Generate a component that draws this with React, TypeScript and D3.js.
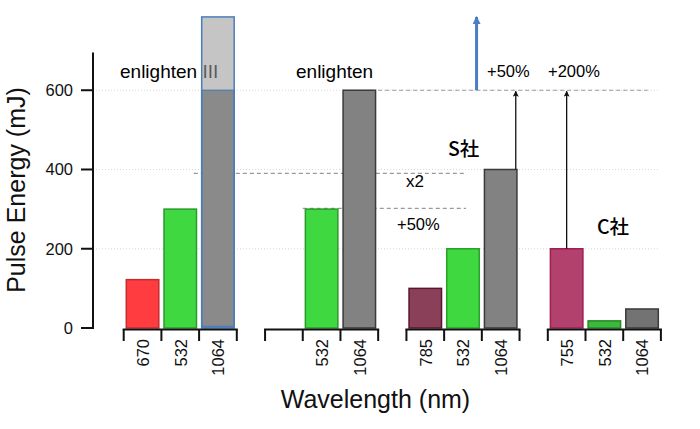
import React from "react";
import * as d3 from "d3";

// ---- data ----
const groupNames = ["enlighten III", "enlighten", "S社", "C社"];
const wavelengths = [
  ["670", "532", "1064"],
  ["", "532", "1064"],
  ["785", "532", "1064"],
  ["755", "532", "1064"],
];
const energies: (number | null)[][] = [
  [122, 300, 600],
  [null, 300, 600],
  [100, 200, 400],
  [200, 18, 48],
];
const upgradeTarget = 785; // enlighten III 1064 extended
const yTicks = [0, 200, 400, 600];
const gridLevels = [200, 400, 600];
const refLevels = [390, 302, 600];
const refLabels = ["x2", "+50%"];
const gainLabels = ["+50%", "+200%"];

// ---- styles ----
const barFills = [
  ["#ff3d41", "#40d840", "#8a8a8a"],
  [null, "#40d840", "#828282"],
  ["#8b405a", "#40d840", "#828282"],
  ["#b3416e", "#3cb83c", "#737373"],
];
const barStrokes = [
  ["#c62a2f", "#2a9a2a", "#4a7ebb"],
  [null, "#2a9a2a", "#3a3a3a"],
  ["#5c1430", "#2aa02a", "#3a3a3a"],
  ["#a01e50", "#248a24", "#3a3a3a"],
];

const FONT = "'Liberation Sans', Arial, Helvetica, 'Noto Sans CJK JP', sans-serif";
const CJK_FONT = "'Noto Sans CJK JP', 'Noto Sans', sans-serif";
const W = 700;
const H = 429;
const GROUP_STEP = 3.75;

const y = d3.scaleLinear().domain([0, 700]).range([328, 50.6]);
const x = d3.scaleLinear().domain([0, 14.25]).range([123.7, 660.9]);
const slotW = x(1) - x(0);
const inset = 2.6;

export default function App() {
  const slot = (g: number, s: number) => g * GROUP_STEP + s;
  const axisY = 329.5;
  return (
    <svg
      width={W}
      height={H}
      viewBox={`0 0 ${W} ${H}`}
      style={{ position: "absolute", left: 0, top: 0, background: "#fff" }}
      fontFamily={FONT}
    >
      <defs>
        <marker id="blackHead" viewBox="0 0 10 10" refX="9" refY="5" markerWidth="7" markerHeight="6" markerUnits="userSpaceOnUse" orient="auto">
          <path d="M0,0 L10,5 L0,10 L2,5 Z" fill="#111" />
        </marker>
        <marker id="blueHead" viewBox="0 0 10 10" refX="9" refY="5" markerWidth="9" markerHeight="8" markerUnits="userSpaceOnUse" orient="auto">
          <path d="M0,0 L10,5 L0,10 Z" fill="#4a7fc4" />
        </marker>
      </defs>

      {/* gridlines */}
      {gridLevels.map((v) => (
        <line key={"g" + v} x1={96} x2={660} y1={y(v)} y2={y(v)} stroke="#d8d8d8" strokeWidth={1} strokeDasharray="1,2" />
      ))}

      {/* dashed reference lines */}
      <line x1={x(1.86)} x2={x(9.05)} y1={y(refLevels[0])} y2={y(refLevels[0])} stroke="#9a9a9a" strokeWidth={1.2} strokeDasharray="4,3" />
      <line x1={x(slot(1, 1))} x2={x(9.08)} y1={y(refLevels[1])} y2={y(refLevels[1])} stroke="#9a9a9a" strokeWidth={1.2} strokeDasharray="4,3" />
      <line x1={x(slot(1, 3))} x2={x(13.9)} y1={y(refLevels[2])} y2={y(refLevels[2])} stroke="#9a9a9a" strokeWidth={1.2} strokeDasharray="4,3" />

      {/* group title texts (below overlays) */}
      <text x={120} y={77.5} fontSize={19} fill="#000">{groupNames[0]}</text>
      <text x={296} y={77.5} fontSize={19} fill="#000">{groupNames[1]}</text>
      <text x={448} y={156} fontSize={19.5} fill="#000" fontFamily={CJK_FONT} fontWeight={500}>{groupNames[2]}</text>
      <text x={597} y={234} fontSize={19.5} fill="#000" fontFamily={CJK_FONT} fontWeight={500}>{groupNames[3]}</text>

      {/* bars */}
      {energies.map((row, g) =>
        row.map((v, s) =>
          v == null ? null : (
            <rect
              key={`b${g}-${s}`}
              x={x(slot(g, s)) + inset}
              y={y(v)}
              width={slotW - 2 * inset}
              height={y(0) - y(v)}
              fill={barFills[g][s] as string}
              stroke={barStrokes[g][s] as string}
              strokeWidth={1.5}
            />
          )
        )
      )}

      {/* enlighten III upgrade overlay */}
      <rect
        x={x(slot(0, 2)) + inset}
        y={y(upgradeTarget)}
        width={slotW - 2 * inset}
        height={y(600) - y(upgradeTarget)}
        fill="#9b9b9b"
        fillOpacity={0.58}
      />
      <rect
        x={x(slot(0, 2)) + inset}
        y={y(upgradeTarget)}
        width={slotW - 2 * inset}
        height={y(0) - y(upgradeTarget) - 1.5}
        fill="none"
        stroke="#4a7ebb"
        strokeWidth={1.5}
      />

      {/* y axis */}
      <line x1={93} x2={93} y1={y(0) + 1} y2={y(695)} stroke="#111" strokeWidth={2} />
      {yTicks.map((v) => (
        <g key={"t" + v}>
          <line x1={81} x2={93} y1={y(v)} y2={y(v)} stroke="#111" strokeWidth={2} />
          <text x={73} y={y(v)} dy="0.35em" textAnchor="end" fontSize={16.5} fill="#111">{v}</text>
        </g>
      ))}

      {/* bracket x axes */}
      {wavelengths.map((row, g) => (
        <g key={"ax" + g}>
          <line x1={x(slot(g, 0)) - 1} x2={x(slot(g, 3)) + 1} y1={axisY} y2={axisY} stroke="#111" strokeWidth={2} />
          {[0, 1, 2, 3].map((k) => (
            <line key={k} x1={x(slot(g, k))} x2={x(slot(g, k))} y1={axisY} y2={341} stroke="#111" strokeWidth={2} />
          ))}
          {row.map((lab, s) => {
            const cx = x(slot(g, s) + 0.5);
            const ty = 339;
            return (
              <text key={s} transform={`translate(${cx + 0.5},${ty}) rotate(-90)`} textAnchor="end" dy="0.35em" fontSize={16.5} fill="#111">
                {lab}
              </text>
            );
          })}
        </g>
      ))}

      {/* arrows */}
      <line x1={x(10.4)} x2={x(10.4)} y1={y(400)} y2={y(600) + 1} stroke="#111" strokeWidth={1.3} markerEnd="url(#blackHead)" />
      <line x1={x(slot(3, 0.5))} x2={x(slot(3, 0.5))} y1={y(200)} y2={y(600) + 1} stroke="#111" strokeWidth={1.3} markerEnd="url(#blackHead)" />
      <line x1={x(9.36)} x2={x(9.36)} y1={y(600)} y2={y(upgradeTarget)} stroke="#4a7fc4" strokeWidth={3} markerEnd="url(#blueHead)" />

      {/* annotation texts */}
      <text x={406} y={187} fontSize={17} fill="#000">{refLabels[0]}</text>
      <text x={397} y={230} fontSize={16.5} fill="#000">{refLabels[1]}</text>
      <text x={487} y={77} fontSize={16.5} fill="#000">{gainLabels[0]}</text>
      <text x={548} y={77} fontSize={16.5} fill="#000">{gainLabels[1]}</text>

      {/* axis titles */}
      <text transform="translate(25,190) rotate(-90)" textAnchor="middle" fontSize={25} fill="#111">Pulse Energy (mJ)</text>
      <text x={375.5} y={408} textAnchor="middle" fontSize={25} fill="#111">Wavelength (nm)</text>
    </svg>
  );
}
